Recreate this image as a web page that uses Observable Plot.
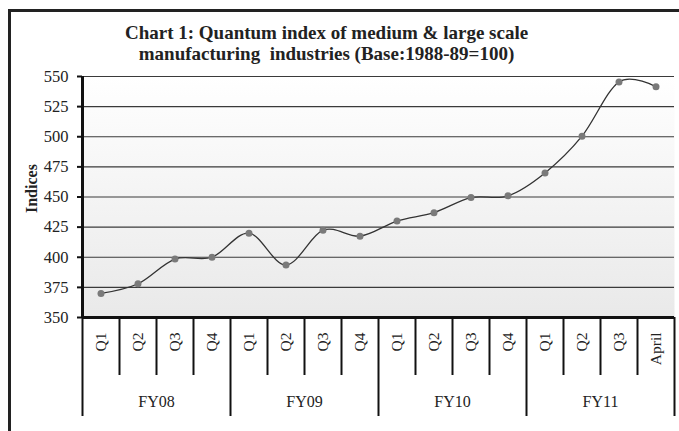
<!DOCTYPE html>
<html>
<head>
<meta charset="utf-8">
<script src="https://cdn.jsdelivr.net/npm/d3@7"></script>
<script src="https://cdn.jsdelivr.net/npm/@observablehq/plot@0.6"></script>
<style>
  html, body { margin: 0; padding: 0; background: #fff; }
  #wrap { position: relative; width: 679px; height: 431px; overflow: hidden; }
  #border { position: absolute; left: 8px; top: 9px; width: 800px; height: 600px;
            border-left: 3px solid #222; border-top: 3px solid #222; pointer-events: none; }
</style>
</head>
<body>
<div id="wrap"><div id="chart"></div><div id="border"></div></div>
<script>
const titleLines = ["Chart 1: Quantum index of medium & large scale", "manufacturing  industries (Base:1988-89=100)"];
const yLabel = "Indices";
const quarters = ["Q1","Q2","Q3","Q4","Q1","Q2","Q3","Q4","Q1","Q2","Q3","Q4","Q1","Q2","Q3","April"];
const fiscalYears = ["FY08","FY09","FY10","FY11"];
const quartersPerYear = [4, 4, 4, 4];
const indices = [370, 378, 398.5, 400, 420, 393.5, 422.5, 417.5, 430, 437, 449.5, 451, 470, 500.5, 545.5, 541.5];
const yTicks = [350, 375, 400, 425, 450, 475, 500, 525, 550];

const data = quarters.map((q, i) => ({i, q, v: indices[i]}));
// boundaries between categories
const groupStarts = [];
let acc = 0;
quartersPerYear.forEach(n => { groupStarts.push(acc); acc += n; });
const groupBounds = [...groupStarts.map(s => s - 0.5), acc - 0.5];
const allBounds = d3.range(quarters.length + 1).map(k => k - 0.5);
const minorBounds = allBounds.filter(b => !groupBounds.includes(b));
const groupCenters = fiscalYears.map((fy, k) => ({fy, c: groupStarts[k] + (quartersPerYear[k] - 1) / 2}));

const plot = Plot.plot({
  width: 679,
  height: 431,
  marginLeft: 82,
  marginRight: 5,
  marginTop: 76,
  marginBottom: 114,
  style: {fontFamily: "'Liberation Serif', 'Times New Roman', serif", fontSize: "16px", color: "#000", background: "transparent"},
  x: {domain: [-0.5, quarters.length - 0.5], axis: null},
  y: {domain: [350, 550], axis: null},
  marks: [
    Plot.frame({fill: "url(#plotGrad)", stroke: null}),
    Plot.ruleY(yTicks.filter(t => t > 350), {stroke: "#3a3a3a", strokeWidth: 1.2}),
    Plot.axisY({ticks: yTicks, tickSize: 5, tickPadding: 9, label: null, stroke: "#111", strokeWidth: 2, fontSize: 16.5, fill: "#222"}),
    // short separators between quarters
    Plot.ruleX(minorBounds, {y1: 350, y2: 350, insetBottom: -58, stroke: "#111", strokeWidth: 2}),
    // long separators between fiscal years
    Plot.ruleX(groupBounds, {y1: 350, y2: 350, insetBottom: -99, stroke: "#111", strokeWidth: 2}),
    Plot.ruleX([-0.5], {stroke: "#111", strokeWidth: 3}),
    Plot.ruleY([350], {stroke: "#111", strokeWidth: 3}),
    Plot.line(data, {x: "i", y: "v", curve: "cardinal", tension: 0, stroke: "#333", strokeWidth: 1.3}),
    Plot.dot(data, {x: "i", y: "v", r: 3.5, fill: "#7a7a7a", stroke: null}),
    Plot.text(data, {x: "i", text: "q", frameAnchor: "bottom", dy: 15, rotate: -90, textAnchor: "end", lineAnchor: "middle", fontSize: 15.5, fill: "#222"}),
    Plot.text(groupCenters, {x: "c", text: "fy", frameAnchor: "bottom", dy: 84, lineAnchor: "middle", fontSize: 16, fill: "#222"}),
    Plot.text([yLabel], {frameAnchor: "left", dx: -51, dy: 16, rotate: -90, fontWeight: "bold", fontSize: 16, fill: "#222"}),
    Plot.text([titleLines.join("\n")], {frameAnchor: "top", dx: -52, dy: -52, lineAnchor: "top", lineHeight: 1.08, fontWeight: "bold", fontSize: 19, fill: "#222"})
  ]
});

const svg = d3.select(plot);
const defs = svg.insert("defs", ":first-child");
const g = defs.append("linearGradient").attr("id", "plotGrad").attr("x1", 0).attr("y1", 0).attr("x2", 0).attr("y2", 1);
g.append("stop").attr("offset", "0%").attr("stop-color", "#ffffff");
g.append("stop").attr("offset", "100%").attr("stop-color", "#e9e9e9");
document.getElementById("chart").appendChild(plot);
</script>
</body>
</html>
